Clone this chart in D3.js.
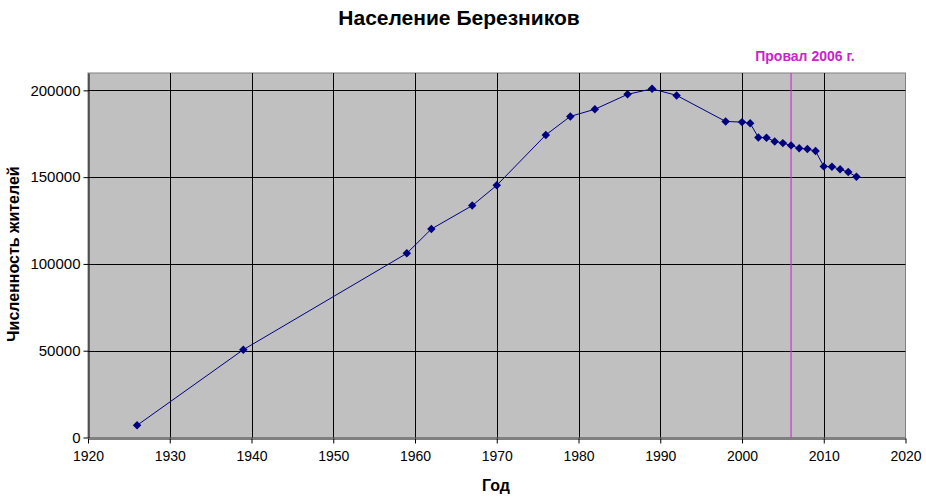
<!DOCTYPE html>
<html>
<head>
<meta charset="utf-8">
<script src="https://cdn.jsdelivr.net/npm/d3@7"></script>
<style>
  body { margin: 0; background: #fff; }
  svg text { font-family: "Liberation Sans", Arial, sans-serif; }
</style>
</head>
<body>
<svg id="chart" width="926" height="498"></svg>
<script>
const years = [1926, 1939, 1959, 1962, 1967, 1970, 1976, 1979, 1982, 1986, 1989, 1992, 1998, 2000, 2001, 2002, 2003, 2004, 2005, 2006, 2007, 2008, 2009, 2010, 2011, 2012, 2013, 2014];
const population = [7000, 50600, 106100, 120100, 133600, 145300, 174300, 185000, 189100, 197700, 200900, 197100, 182100, 181700, 181000, 172900, 172700, 170600, 169600, 168300, 166600, 166200, 165000, 156200, 156000, 154500, 152900, 150200];
const xTicks = [1920, 1930, 1940, 1950, 1960, 1970, 1980, 1990, 2000, 2010, 2020];
const yTicks = [0, 50000, 100000, 150000, 200000];
const markerYear = 2006;
const titleText = "Население Березников";
const xLabel = "Год";
const yLabel = "Численность жителей";
const markerLabel = "Провал 2006 г.";

const svg = d3.select("#chart");
const pL = 88, pR = 905.5, pT = 73, pB = 437.5;

const x = d3.scaleLinear().domain([1920, 2020]).range([pL, pR]);
const y = d3.scaleLinear().domain([0, 210000]).range([pB, pT]);

// plot background
svg.append("rect")
  .attr("x", pL).attr("y", pT)
  .attr("width", pR - pL).attr("height", pB - pT)
  .attr("fill", "#c0c0c0")
  .attr("stroke", "#808080").attr("stroke-width", 1);

// gridlines
svg.append("g").selectAll("line").data(yTicks.filter(d => d > 0)).join("line")
  .attr("x1", pL).attr("x2", pR)
  .attr("y1", d => Math.round(y(d)) + 0.5).attr("y2", d => Math.round(y(d)) + 0.5)
  .attr("stroke", "#000").attr("stroke-width", 1);
svg.append("g").selectAll("line").data(xTicks.filter(d => d > 1920 && d < 2020)).join("line")
  .attr("y1", pT).attr("y2", pB)
  .attr("x1", d => Math.round(x(d)) + 0.5).attr("x2", d => Math.round(x(d)) + 0.5)
  .attr("stroke", "#000").attr("stroke-width", 1);

// axes
const xAxis = d3.axisBottom(x).tickValues(xTicks).tickFormat(d3.format("d")).tickSize(5).tickSizeOuter(0);
const gx = svg.append("g").attr("transform", `translate(0,${Math.round(pB) + 0.5})`).call(xAxis);
gx.selectAll("text").attr("font-size", 14).attr("fill", "#000").attr("dy", "1.05em");
gx.select(".domain").attr("stroke", "#000");
gx.selectAll(".tick line").attr("stroke", "#000");

const yAxis = d3.axisLeft(y).tickValues(yTicks).tickFormat(d3.format("d")).tickSize(5).tickSizeOuter(0);
const gy = svg.append("g").attr("transform", `translate(${Math.round(pL) + 0.5},0)`).call(yAxis);
gy.selectAll("text").attr("font-size", 15).attr("fill", "#000").attr("x", -8);
gy.select(".domain").attr("stroke", "#000");
gy.selectAll(".tick line").attr("stroke", "#000");

// marker vertical line
svg.append("line")
  .attr("x1", x(markerYear)).attr("x2", x(markerYear))
  .attr("y1", pT).attr("y2", pB)
  .attr("stroke", "#cc33cc").attr("stroke-width", 1.2);

svg.append("text")
  .attr("x", 805).attr("y", 61)
  .attr("text-anchor", "middle")
  .attr("font-size", 14).attr("font-weight", "bold")
  .attr("fill", "#cc22cc")
  .text(markerLabel);

// data line
const data = years.map((yr, i) => ({ yr, v: population[i] }));
const line = d3.line().x(d => x(d.yr)).y(d => y(d.v));
svg.append("path").datum(data)
  .attr("d", line)
  .attr("fill", "none").attr("stroke", "#000080").attr("stroke-width", 1);

svg.append("g").selectAll("path").data(data).join("path")
  .attr("transform", d => `translate(${x(d.yr)},${y(d.v)}) rotate(45)`)
  .attr("d", d3.symbol().type(d3.symbolSquare).size(36))
  .attr("fill", "#000080");

// titles
svg.append("text")
  .attr("x", 459).attr("y", 25)
  .attr("text-anchor", "middle")
  .attr("font-size", 21).attr("font-weight", "bold")
  .text(titleText);

svg.append("text")
  .attr("x", 496).attr("y", 491)
  .attr("text-anchor", "middle")
  .attr("font-size", 16).attr("font-weight", "bold")
  .text(xLabel);

svg.append("text")
  .attr("transform", `translate(19,254) rotate(-90)`)
  .attr("text-anchor", "middle")
  .attr("font-size", 16).attr("font-weight", "bold")
  .text(yLabel);
</script>
</body>
</html>
